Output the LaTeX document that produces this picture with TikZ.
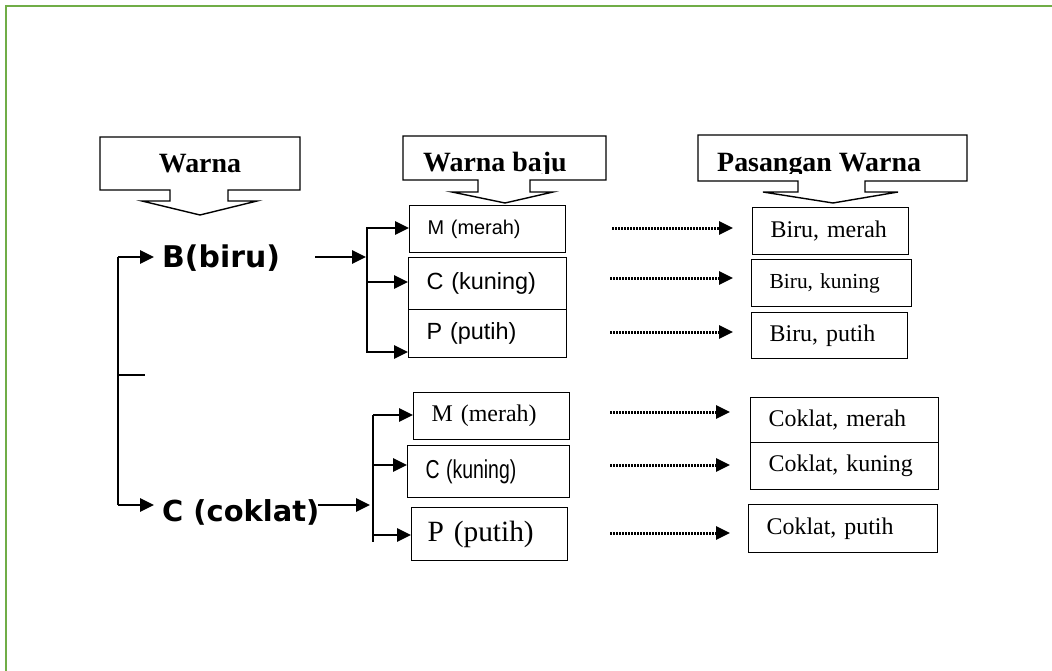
\documentclass[tikz,border=0pt]{standalone}
\usepackage{fontspec}
\setmainfont{Liberation Serif}
\newfontfamily\arialf{Liberation Sans}
\newfontfamily\verdf{DejaVu Sans}
\usetikzlibrary{arrows.meta}
\definecolor{frameGreen}{HTML}{70AD47}
\tikzset{
  tbox/.style={draw, line width=1.3bp, rectangle, anchor=north west, inner xsep=18bp, inner ysep=0pt, align=left},
  con/.style={line width=2bp},
  arr/.style={line width=2.8bp, -{Triangle[length=14bp,width=13bp]}},
  dotarr/.style={line width=3bp, dash pattern=on 2bp off 1bp, -{Triangle[length=14bp,width=13bp]}},
  callout/.style={draw, line width=1.4bp, line join=miter},
  hdr/.style={font=\bfseries\fontsize{28}{30}\selectfont, inner sep=0pt},
  big/.style={font=\verdf\bfseries\fontsize{29}{30}\selectfont, inner sep=0pt, anchor=base west},
}
\begin{document}
\begin{tikzpicture}[x=1bp,y=-1bp]
\useasboundingbox (0,0) rectangle (1052,671);
% frame
\draw[frameGreen, line width=2.6bp] (6,672) -- (6,6) -- (1053,6);

% header callouts
\draw[callout] (100,137) -- (300,137) -- (300,190) -- (228,190) -- (228,201) -- (257,201) -- (200,215) -- (142,201) -- (170,201) -- (170,190) -- (100,190) -- cycle;
\node[hdr, anchor=base] (tW) at (200,173) {Warna};

\draw[callout] (403,136) -- (606,136) -- (606,180) -- (530,180) -- (530,192) -- (553,192) -- (505,203) -- (452,192) -- (478,192) -- (478,180) -- (403,180) -- cycle;
\begin{scope}
\clip (404,137) rectangle (605,173.5);
\node[hdr, anchor=base west] (tWB) at (423,172) {Warna baju};
\end{scope}

\draw[callout] (698,135) -- (967,135) -- (967,181) -- (865,181) -- (865,192) -- (898,192) -- (833,203) -- (763,192) -- (798,192) -- (798,181) -- (698,181) -- cycle;
\begin{scope}
\clip (699,136) rectangle (966,173.5);
\node[hdr, anchor=base west] (tPW) at (717,172) {Pasangan Warna};
\end{scope}

% main colour nodes
\node[big, font=\verdf\bfseries\fontsize{30}{30}\selectfont] (nB) at (162,267) {B(biru)};
\node[big] (nC) at (162,521) {C (coklat)};

% upper boxes
\node[tbox, minimum width=156bp, minimum height=47bp, text width=120bp, font=\arialf\fontsize{20}{22}\selectfont] (uM) at (409,205) {M (merah)};
\node[tbox, minimum width=158bp, minimum height=52bp, text width=122bp, font=\arialf\fontsize{23.5}{25}\selectfont] (uC) at (408,257) {C (kuning)};
\node[tbox, minimum width=158bp, minimum height=48bp, text width=122bp, font=\arialf\fontsize{23.5}{25}\selectfont] (uP) at (408,309) {P (putih)};

\node[tbox, minimum width=156bp, minimum height=47bp, text width=120bp, font=\fontsize{24}{26}\selectfont] (rB1) at (752,207) {Biru, merah};
\node[tbox, minimum width=160bp, minimum height=47bp, text width=124bp, font=\fontsize{21.5}{23}\selectfont] (rB2) at (751,259) {Biru, kuning};
\node[tbox, minimum width=156bp, minimum height=46bp, text width=120bp, font=\fontsize{24}{26}\selectfont] (rB3) at (751,312) {Biru, putih};

% lower boxes
\node[tbox, minimum width=156bp, minimum height=47bp, text width=120bp, font=\fontsize{24}{26}\selectfont] (lM) at (413,392) {M (merah)};
\node[tbox, minimum width=162bp, minimum height=52bp, text width=126bp, font=\arialf\fontsize{26}{28}\selectfont] (lC) at (407,445) {\scalebox{0.75}[1]{C (kuning)}};
\node[tbox, minimum width=156bp, minimum height=53bp, text width=124bp, inner xsep=16bp, font=\fontsize{29.5}{31}\selectfont] (lP) at (411,507) {P (putih)};

\node[tbox, minimum width=188bp, minimum height=45bp, text width=152bp, font=\fontsize{24}{26}\selectfont] (cM) at (750,397) {Coklat, merah};
\node[tbox, minimum width=188bp, minimum height=47bp, text width=152bp, font=\fontsize{24}{26}\selectfont] (cK) at (750,442) {Coklat, kuning};
\node[tbox, minimum width=189bp, minimum height=48bp, text width=153bp, font=\fontsize{24}{26}\selectfont] (cP) at (748,504) {Coklat, putih};

% left tree
\coordinate (L1) at (118,257);
\coordinate (L2) at (118,505);
\coordinate (Lm) at (118,375);
\coordinate (Lt) at (145,375);
\coordinate (tB) at (154,257);
\coordinate (tC) at (154,505);
\draw[con] (L1) -- (L2);
\draw[con] (Lm) -- (Lt);
\draw[arr] (L1) -- (tB);
\draw[arr] (L2) -- (tC);

% upper bracket
\coordinate (sB) at (315,257);
\coordinate (eB) at (366,257);
\coordinate (U1) at (367,227);
\coordinate (U2) at (367,353);
\draw[arr] (sB) -- (eB);
\draw[con, line width=2.4bp] (U1) -- (U2);
\draw[arr] (367,228) -- (uM.west |- 0,228);
\draw[arr] (367,282) -- (uC.west |- 0,282);
\draw[arr] (367,352) -- (uP.west |- 0,352);

% lower bracket
\coordinate (sC) at (318,505);
\coordinate (eC) at (370,505);
\coordinate (D1) at (373,415);
\coordinate (D2) at (373,542);
\draw[arr] (sC) -- (eC);
\draw[con, line width=2.4bp] (D1) -- (D2);
\draw[arr] (373,415) -- (lM.west |- 0,415);
\draw[arr] (373,465) -- (lC.west |- 0,465);
\draw[arr] (373,535) -- (lP.west |- 0,535);

% dotted arrows
\coordinate (p1) at (612,228); \coordinate (q1) at (733,228);
\coordinate (p2) at (610,278); \coordinate (q2) at (733,278);
\coordinate (p3) at (610,332); \coordinate (q3) at (733,332);
\coordinate (p4) at (610,412); \coordinate (q4) at (730,412);
\coordinate (p5) at (610,465); \coordinate (q5) at (730,465);
\coordinate (p6) at (610,533); \coordinate (q6) at (730,533);
\foreach \i in {1,...,6} { \draw[dotarr] (p\i) -- (q\i); }
\end{tikzpicture}
\end{document}
